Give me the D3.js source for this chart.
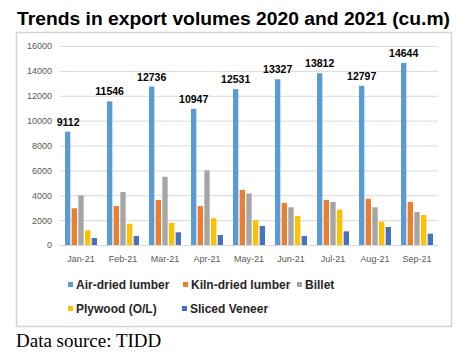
<!DOCTYPE html>
<html><head><meta charset="utf-8">
<script src="https://cdn.jsdelivr.net/npm/d3@7"></script>
<style>body{margin:0;background:#fff}svg{display:block}</style>
</head><body>
<script>
const months = ["Jan-21","Feb-21","Mar-21","Apr-21","May-21","Jun-21","Jul-21","Aug-21","Sep-21"];
const seriesNames = ["Air-dried lumber","Kiln-dried lumber","Billet","Plywood (O/L)","Sliced Veneer"];
const airDried = [9112,11546,12736,10947,12531,13327,13812,12797,14644];
const kilnDried = [2950,3130,3620,3130,4420,3380,3620,3720,3460];
const billet = [4000,4260,5490,6000,4150,3030,3460,3030,2650];
const plywood = [1180,1710,1790,2150,1980,2330,2840,1870,2410];
const slicedVeneer = [560,720,1020,800,1530,720,1100,1450,910];
const yTicks = [0,2000,4000,6000,8000,10000,12000,14000,16000];
const colors = ["#5B9BD5","#ED7D31","#A5A5A5","#FFC000","#4472C4"];
const series = [airDried,kilnDried,billet,plywood,slicedVeneer];

const W=472,H=356;
const svg=d3.select("body").append("svg").attr("width",W).attr("height",H);

svg.append("text").attr("x",17).attr("y",25).attr("font-family","Liberation Sans, Arial, sans-serif")
  .attr("font-weight","bold").attr("font-size",18).attr("fill","#000")
  .attr("textLength",433).attr("lengthAdjust","spacingAndGlyphs")
  .text("Trends in export volumes 2020 and 2021 (cu.m)");

svg.append("rect").attr("x",16.5).attr("y",32.5).attr("width",435).attr("height",294)
  .attr("fill","#fff").attr("stroke","#d4d4d4").attr("stroke-width",1.5);

const x=d3.scaleBand().domain(months).range([60,438]);
const inner=d3.scaleBand().domain(d3.range(5)).range([-16,16]).paddingInner(0.2);
const y=d3.scaleLinear().domain([0,16000]).range([245,46]);

const yAxis=svg.append("g").attr("transform","translate(60,0)")
  .call(d3.axisLeft(y).tickValues(yTicks).tickSize(-378).tickFormat(d3.format("d")));
yAxis.select(".domain").remove();
yAxis.selectAll("line").attr("stroke","#d9d9d9");
yAxis.selectAll("text").attr("fill","#595959").attr("font-size",9).attr("x",-8)
  .attr("font-family","Liberation Sans, Arial, sans-serif");

const xAxis=svg.append("g").attr("transform","translate(0,245)")
  .call(d3.axisBottom(x).tickSize(0).tickPadding(11));
xAxis.select(".domain").attr("stroke","#d9d9d9");
xAxis.selectAll("text").attr("fill","#595959").attr("font-size",9)
  .attr("font-family","Liberation Sans, Arial, sans-serif");

series.forEach((vals,si)=>{
  svg.append("g").selectAll("rect").data(vals).join("rect")
    .attr("x",(d,i)=>x(months[i])+x.bandwidth()/2+inner(si))
    .attr("width",inner.bandwidth())
    .attr("y",d=>y(d)).attr("height",d=>y(0)-y(d))
    .attr("fill",colors[si]);
});

svg.append("g").selectAll("text").data(airDried).join("text")
  .attr("x",(d,i)=>x(months[i])+x.bandwidth()/2+inner(0)+inner.bandwidth()/2 - (i===0?-0.5:0))
  .attr("y",d=>y(d)-6).attr("text-anchor","middle")
  .attr("font-family","Liberation Sans, Arial, sans-serif").attr("font-weight","bold")
  .attr("font-size",10.5).attr("fill","#000").text(d=>d);

const legPos=[[68,285],[183,285],[297,285],[68,309],[182,309]];
const leg=svg.append("g").selectAll("g").data(seriesNames).join("g")
  .attr("transform",(d,i)=>`translate(${legPos[i][0]},${legPos[i][1]})`);
leg.append("rect").attr("x",0).attr("y",-3).attr("width",5).attr("height",5).attr("fill",(d,i)=>colors[i]);
leg.append("text").attr("x",8).attr("y",4).attr("font-family","Liberation Sans, Arial, sans-serif")
  .attr("font-weight","bold").attr("font-size",12).attr("fill","#262626").text(d=>d);

svg.append("text").attr("x",16).attr("y",347).attr("font-family","Liberation Serif, Times New Roman, serif")
  .attr("font-size",19).attr("fill","#000").text("Data source: TIDD");
</script>
</body></html>
